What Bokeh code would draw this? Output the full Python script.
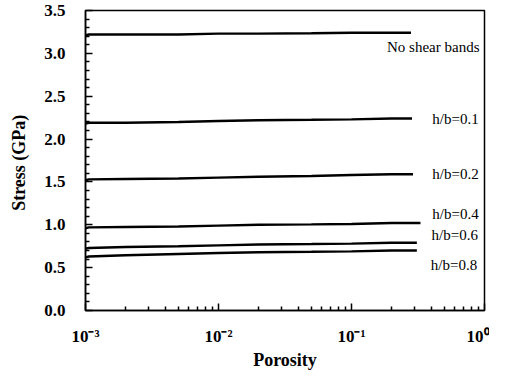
from bokeh.plotting import figure
from bokeh.models import FixedTicker, ColumnDataSource, LabelSet
from bokeh.core.properties import value
from bokeh.embed import file_html
from bokeh.resources import INLINE

porosity = [0.001, 0.00106, 0.002, 0.005, 0.01, 0.02, 0.05, 0.1, 0.2]
series = {
    "none": ([3.21, 3.22, 3.22, 3.22, 3.23, 3.23, 3.235, 3.24, 3.24], 0.28),
    "0.1": ([2.18, 2.19, 2.19, 2.20, 2.21, 2.22, 2.225, 2.23, 2.24], 0.285),
    "0.2": ([1.52, 1.53, 1.535, 1.54, 1.55, 1.56, 1.57, 1.58, 1.59], 0.29),
    "0.4": ([0.96, 0.97, 0.975, 0.98, 0.99, 1.00, 1.005, 1.01, 1.02], 0.33),
    "0.6": ([0.72, 0.73, 0.74, 0.75, 0.76, 0.77, 0.775, 0.78, 0.79], 0.31),
    "0.8": ([0.62, 0.63, 0.645, 0.66, 0.67, 0.68, 0.685, 0.69, 0.70], 0.31),
}
label_text = ["No shear bands", "h/b=0.1", "h/b=0.2", "h/b=0.4", "h/b=0.6", "h/b=0.8"]
label_x = [0.185, 0.405, 0.405, 0.405, 0.40, 0.395]
label_y = [3.08, 2.24, 1.59, 1.13, 0.88, 0.53]

x_major = [0.001, 0.01, 0.1, 1.0]
x_labels = ["10\u207b\u00b3", "10\u207b\u00b2", "10\u207b\u00b9", "10\u2070"]
y_major = [0.0, 0.5, 1.0, 1.5, 2.0, 2.5, 3.0, 3.5]
x_minor = [m * d for d in [0.001, 0.01, 0.1] for m in range(2, 10)]
y_minor = [round(i * 0.1, 1) for i in range(1, 35) if i % 5 != 0]

FONT = "Liberation Serif"
XMIN, XMAX, YMIN, YMAX = 0.001, 1.0, 0.0, 3.5
FW, FH = 399, 300

p = figure(frame_width=FW, frame_height=FH, x_axis_type="log",
           x_range=(XMIN, XMAX), y_range=(YMIN, YMAX), output_backend="svg",
           toolbar_location=None, min_border_left=85, min_border_right=5,
           min_border_top=10, min_border_bottom=55)
p.xgrid.visible = False
p.ygrid.visible = False
p.background_fill_color = None
p.outline_line_color = "black"
p.outline_line_width = 1.5

for key, (vals, xend) in series.items():
    xs = porosity + [xend]
    ys = vals + [vals[-1]]
    p.line(xs, ys, line_color="black", line_width=2.4)

src = ColumnDataSource(dict(x=label_x, y=label_y, t=label_text))
labels = LabelSet(x="x", y="y", text="t", source=src, text_font=value(FONT),
                  text_font_size=value("15px"), text_baseline="middle",
                  text_align="left", text_color="black")
p.add_layout(labels)

p.xaxis.ticker = FixedTicker(ticks=x_major, minor_ticks=x_minor)
p.xaxis.major_label_overrides = dict(zip(x_major, x_labels))
p.yaxis.ticker = FixedTicker(ticks=y_major, minor_ticks=y_minor)
p.yaxis.major_label_overrides = {v: f"{v:.1f}" for v in y_major}

for ax in (p.xaxis[0], p.yaxis[0]):
    ax.major_tick_in = 7
    ax.major_tick_out = 0
    ax.minor_tick_in = 4
    ax.minor_tick_out = 0
    ax.major_tick_line_color = "black"
    ax.minor_tick_line_color = "black"
    ax.major_tick_line_width = 1.5
    ax.minor_tick_line_width = 1.5
    ax.axis_line_color = "black"
    ax.axis_line_width = 1.5
    ax.major_label_text_font = FONT
    ax.major_label_text_font_style = "bold"
    ax.major_label_text_font_size = "17px"
    ax.major_label_text_color = "black"
    ax.axis_label_text_font = FONT
    ax.axis_label_text_font_style = "bold"
    ax.axis_label_text_font_size = "18px"
    ax.axis_label_text_color = "black"

p.xaxis.axis_label = "Porosity"
p.yaxis.axis_label = "Stress  (GPa)"
p.xaxis.major_label_standoff = 16
p.yaxis.major_label_standoff = 20
p.xaxis.axis_label_standoff = 1
p.yaxis.axis_label_standoff = 12

open("out.html", "w").write(file_html(p, INLINE))
